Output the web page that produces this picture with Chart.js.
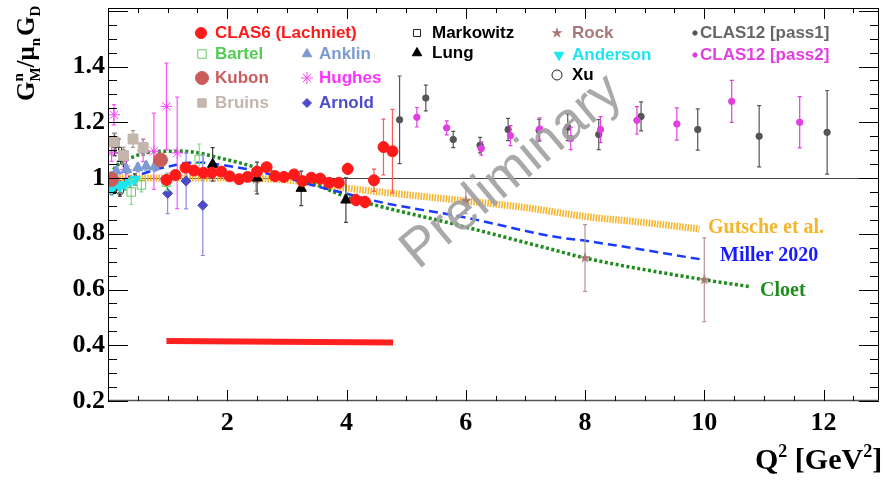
<!DOCTYPE html>
<html><head><meta charset="utf-8">
<script src="https://cdn.jsdelivr.net/npm/chart.js@4.4.1/dist/chart.umd.min.js"></script>
<style>html,body{margin:0;padding:0;background:#fff;overflow:hidden}</style>
</head><body>
<canvas id="c" width="887" height="481"></canvas>
<script>
// ---------------- data ----------------
const xTickValues = [2, 4, 6, 8, 10, 12];
const yTickValues = [0.2, 0.4, 0.6, 0.8, 1.0, 1.2, 1.4];

const clas6Q2  = [0.98,1.13,1.30,1.44,1.60,1.74,1.90,2.04,2.20,2.34,2.50,2.66,2.80,2.95,3.12,3.26,3.41,3.56,3.71,3.87,4.02,4.16,4.31,4.46,4.62,4.77];
const clas6GM  = [0.993,1.011,1.037,1.027,1.019,1.019,1.023,1.006,0.996,1.004,1.023,1.039,1.007,1.004,1.013,0.989,1.001,0.998,0.983,0.983,1.033,0.921,0.914,0.992,1.111,1.096];
const clas6Err = [0.012,0.010,0.010,0.010,0.010,0.010,0.010,0.010,0.010,0.010,0.012,0.012,0.012,0.012,0.012,0.012,0.013,0.013,0.014,0.015,0.020,0.020,0.020,0.040,0.100,0.150];
const clas6SysQ2 = [0.98, 4.78];
const clas6SysGM = [0.415, 0.410];

const bartelQ2 = [0.39, 0.56, 0.98, 1.53];
const bartelGM = [0.950, 0.975, 0.985, 1.067];
const bartelErr = [0.045, 0.025, 0.030, 0.055];

const kubonQ2 = [0.06, 0.88];
const kubonGM = [0.995, 1.065];
const kubonErr = [0.010, 0.010];

const bruinsQ2 = [0.10, 0.26, 0.42, 0.59];
const bruinsGM = [1.130, 1.081, 1.140, 1.110];
const bruinsErr = [0.030, 0.030, 0.030, 0.030];

const anklinQ2 = [0.14, 0.31, 0.50, 0.64, 0.78];
const anklinGM = [1.025, 1.031, 1.037, 1.043, 1.040];
const anklinErr = [0.015, 0.015, 0.015, 0.015, 0.015];

const hughesQ2 = [0.06, 0.10, 0.30, 0.59, 0.77, 0.98, 1.16];
const hughesGM = [1.090, 1.227, 1.030, 1.099, 1.096, 1.257, 1.090];
const hughesErr = [0.030, 0.036, 0.030, 0.040, 0.137, 0.155, 0.200];

const arnoldQ2 = [1.00, 1.31, 1.59];
const arnoldGM = [0.945, 0.989, 0.902];
const arnoldErr = [0.073, 0.100, 0.180];

const markowitzQ2 = [0.11, 0.18, 0.26];
const markowitzGM = [1.120, 1.100, 1.060];
const markowitzErr = [0.040, 0.040, 0.040];

const lungQ2 = [1.755, 2.50, 3.24, 3.99];
const lungGM = [1.049, 1.000, 0.963, 0.921];
const lungErr = [0.060, 0.057, 0.062, 0.080];

const rockQ2 = [2.48, 6.00, 8.00, 10.00];
const rockGM = [0.995, 0.918, 0.713, 0.635];
const rockErr = [0.042, 0.046, 0.120, 0.150];

const andersonQ2 = [0.06, 0.12, 0.20, 0.28, 0.37, 0.45];
const andersonGM = [0.960, 0.977, 0.969, 0.977, 0.986, 0.995];
const andersonErr = [0.020, 0.020, 0.020, 0.020, 0.020, 0.020];

const xuQ2 = [0.10, 0.20];
const xuGM = [0.965, 0.955];
const xuErr = [0.020, 0.020];

const pass1Q2 = [4.89,5.33,5.79,6.24,6.71,7.23,7.71,8.23,8.94,9.89,10.92,12.06];
const pass1GM = [1.209,1.287,1.138,1.118,1.174,1.171,1.182,1.156,1.221,1.174,1.150,1.164];
const pass1Err = [0.157,0.046,0.029,0.028,0.040,0.039,0.048,0.054,0.052,0.074,0.110,0.150];

const pass2Q2 = [5.18,5.68,6.26,6.75,7.24,7.76,8.26,8.87,9.54,10.46,11.60];
const pass2GM = [1.218,1.180,1.106,1.152,1.176,1.142,1.174,1.207,1.194,1.275,1.200];
const pass2Err = [0.035,0.025,0.024,0.036,0.040,0.040,0.046,0.049,0.058,0.075,0.092];

const gutscheQ2 = [0.0,0.5,1.0,1.5,2.0,2.5,3.0,3.5,4.0,5.0,6.0,7.0,8.0,9.0,9.92];
const gutscheGM = [1.000,1.000,1.000,1.000,1.000,0.998,0.993,0.980,0.964,0.940,0.918,0.894,0.862,0.840,0.817];

const millerQ2 = [0.0,0.06,0.17,0.34,0.50,0.78,1.06,1.34,1.60,1.90,2.20,2.50,2.80,3.10,3.50,4.00,4.60,5.70,6.00,7.50,8.00,9.98];
const millerGM = [1.000,0.981,0.965,0.983,1.007,1.029,1.043,1.055,1.055,1.047,1.037,1.025,1.009,0.995,0.970,0.944,0.912,0.870,0.858,0.789,0.775,0.707];

const cloetQ2 = [0.0,0.06,0.17,0.39,0.62,0.90,1.26,1.53,1.81,2.09,2.37,2.64,2.92,3.20,4.03,4.53,5.70,7.53,8.00,10.00,10.78];
const cloetGM = [0.995,1.019,1.049,1.073,1.090,1.096,1.096,1.090,1.075,1.061,1.045,1.028,1.013,1.000,0.930,0.900,0.840,0.739,0.713,0.635,0.610];

// ---------------- helpers ----------------
const pts = (xs, ys) => xs.map((v, i) => ({x: v, y: ys[i]}));

function makeStar(color, size) {
  const c = document.createElement('canvas');
  c.width = size; c.height = size;
  const g = c.getContext('2d');
  const cx = size / 2, cy = size / 2, R = size / 2, r = R * 0.38;
  g.beginPath();
  for (let i = 0; i < 10; i++) {
    const a = -Math.PI / 2 + i * Math.PI / 5;
    const rr = i % 2 === 0 ? R : r;
    g.lineTo(cx + rr * Math.cos(a), cy + rr * Math.sin(a));
  }
  g.closePath();
  g.fillStyle = color; g.fill();
  return c;
}
const rockStar = makeStar('#a87878', 12);

function pointDs(label, xs, ys, errs, o) {
  return Object.assign({
    type: 'scatter', label, data: pts(xs, ys), errors: errs,
    pointRadius: 4, pointBorderWidth: 1, order: 1
  }, o);
}
function curveDs(label, xs, ys, o) {
  return Object.assign({
    type: 'line', label, data: pts(xs, ys), showLine: true, pointRadius: 0,
    fill: false, cubicInterpolationMode: 'monotone', order: 5
  }, o);
}

const datasets = [
  pointDs('CLAS6 (Lachniet)', clas6Q2, clas6GM, clas6Err, {pointStyle: 'circle', pointRadius: 5.5, backgroundColor: '#ff1a1a', borderColor: '#ff1a1a', errorColor: '#ff5a5a'}),
  pointDs('Kubon', kubonQ2, kubonGM, kubonErr, {pointStyle: 'circle', pointRadius: 7, backgroundColor: '#cc5c5c', borderColor: '#cc5c5c', errorColor: '#cc5c5c'}),
  pointDs('Bartel', bartelQ2, bartelGM, bartelErr, {pointStyle: 'rect', pointRadius: 6, backgroundColor: 'rgba(0,0,0,0)', borderColor: '#66cc66', errorColor: '#88dd88'}),
  pointDs('Bruins', bruinsQ2, bruinsGM, bruinsErr, {pointStyle: 'rect', pointRadius: 7, backgroundColor: '#c4b5ad', borderColor: '#c4b5ad', errorColor: '#aa9a92'}),
  pointDs('Anklin', anklinQ2, anklinGM, anklinErr, {pointStyle: 'triangle', pointRadius: 6, backgroundColor: '#7c9bd2', borderColor: '#7c9bd2', errorColor: '#7c9bd2'}),
  pointDs('Hughes', hughesQ2, hughesGM, hughesErr, {pointStyle: 'star', pointRadius: 6, backgroundColor: '#ff44ff', borderColor: '#ff44ff', errorColor: '#ff55ff'}),
  pointDs('Arnold', arnoldQ2, arnoldGM, arnoldErr, {pointStyle: 'rectRot', pointRadius: 5, backgroundColor: '#4b4bcc', borderColor: '#4b4bcc', errorColor: '#8c8cdd'}),
  pointDs('Markowitz', markowitzQ2, markowitzGM, markowitzErr, {pointStyle: 'rect', pointRadius: 4, backgroundColor: 'rgba(0,0,0,0)', borderColor: '#222', errorColor: '#222'}),
  pointDs('Lung', lungQ2, lungGM, lungErr, {pointStyle: 'triangle', pointRadius: 6, backgroundColor: '#000', borderColor: '#000', errorColor: '#444'}),
  pointDs('Rock', rockQ2, rockGM, rockErr, {pointStyle: rockStar, pointRadius: 6, backgroundColor: '#a87878', borderColor: '#a87878', errorColor: '#b89494'}),
  pointDs('Anderson', andersonQ2, andersonGM, andersonErr, {pointStyle: 'triangle', rotation: 180, pointRadius: 6, backgroundColor: '#1ee6f0', borderColor: '#1ee6f0', errorColor: '#333'}),
  pointDs('Xu', xuQ2, xuGM, xuErr, {pointStyle: 'circle', pointRadius: 4, backgroundColor: 'rgba(0,0,0,0)', borderColor: '#222', errorColor: '#222'}),
  pointDs('CLAS12 [pass1]', pass1Q2, pass1GM, pass1Err, {pointStyle: 'circle', pointRadius: 3.2, backgroundColor: '#555', borderColor: '#555', errorColor: '#555', order: 2}),
  pointDs('CLAS12 [pass2]', pass2Q2, pass2GM, pass2Err, {pointStyle: 'circle', pointRadius: 3.2, backgroundColor: '#e040e0', borderColor: '#e040e0', errorColor: '#e040e0', order: 1}),
  curveDs('CLAS6 syst.', clas6SysQ2, clas6SysGM, {borderColor: '#ff2020', borderWidth: 6, cubicInterpolationMode: 'default', tension: 0}),
  curveDs('Gutsche et al.', gutscheQ2, gutscheGM, {borderColor: '#f7b42c', borderWidth: 7, borderDash: [1.6, 1.2], borderCapStyle: 'butt', order: 7}),
  curveDs('Miller 2020', millerQ2, millerGM, {borderColor: '#1a3cff', borderWidth: 2.5, borderDash: [9, 5], order: 6}),
  curveDs('Cloet', cloetQ2, cloetGM, {borderColor: '#1f8c1f', borderWidth: 3.5, borderDash: [3, 2.5], borderCapStyle: 'butt', order: 6})
];

// ---------------- plugins ----------------
const errorBarPlugin = {
  id: 'errorBars',
  beforeDatasetDraw(chart, args) {
    const ds = chart.data.datasets[args.index];
    if (!ds.errors) return;
    const {ctx, chartArea: ca, scales: {x, y}} = chart;
    ctx.save();
    ctx.beginPath(); ctx.rect(ca.left, ca.top, ca.right - ca.left, ca.bottom - ca.top); ctx.clip();
    ctx.strokeStyle = ds.errorColor; ctx.lineWidth = 1.2;
    ds.data.forEach((p, i) => {
      const e = ds.errors[i];
      const px = x.getPixelForValue(p.x);
      const y1 = y.getPixelForValue(p.y + e), y2 = y.getPixelForValue(p.y - e);
      ctx.beginPath();
      ctx.moveTo(px, y1); ctx.lineTo(px, y2);
      ctx.moveTo(px - 2, y1); ctx.lineTo(px + 2, y1);
      ctx.moveTo(px - 2, y2); ctx.lineTo(px + 2, y2);
      ctx.stroke();
    });
    ctx.restore();
  }
};

function legendMarker(ctx, ds, x, y) {
  ctx.save();
  ctx.fillStyle = ds.backgroundColor; ctx.strokeStyle = ds.borderColor; ctx.lineWidth = 1;
  Chart.helpers.drawPoint(ctx, {pointStyle: ds.pointStyle, rotation: ds.rotation || 0, radius: ds.pointRadius, borderWidth: 1}, x, y);
  ctx.restore();
}

const legendLayout = [
  ['CLAS6 (Lachniet)', 201, 33, 215, '#ff1a1a'],
  ['Bartel', 202, 54, 215, '#55cc55'],
  ['Kubon', 202, 78, 215, '#cc5c5c'],
  ['Bruins', 202, 103, 215, '#c4b5ad'],
  ['Anklin', 307, 54, 319, '#7c9bd2'],
  ['Hughes', 307, 78, 319, '#ff33ff'],
  ['Arnold', 307, 103, 319, '#4b4bcc'],
  ['Markowitz', 417, 33, 432, '#000'],
  ['Lung', 417, 53, 432, '#000'],
  ['Rock', 557, 33, 572, '#a87878'],
  ['Anderson', 559, 55, 572, '#1ee6f0'],
  ['Xu', 557, 75, 572, '#000'],
  ['CLAS12 [pass1]', 695, 33, 700, '#666'],
  ['CLAS12 [pass2]', 695, 55, 700, '#e040e0']
];
const legendSizes = {'Kubon': 6.5, 'Bruins': 6, 'Bartel': 6, 'Markowitz': 5, 'Lung': 5.5, 'Anderson': 5.5, 'Anklin': 5.5, 'Xu': 5, 'CLAS12 [pass1]': 2.2, 'CLAS12 [pass2]': 2.2, 'Arnold': 4.5, 'Hughes': 6, 'CLAS6 (Lachniet)': 5.5, 'Rock': 6};

const curveLabels = [
  ['Gutsche et al.', 708, 233, '#f5b52a'],
  ['Miller 2020', 720, 261, '#1a1aff'],
  ['Cloet', 760, 296, '#1f8c1f']
];

const decorPlugin = {
  id: 'decor',
  beforeDatasetsDraw(chart) {
    const {ctx, chartArea: ca, scales: {y}} = chart;
    ctx.save();
    const y1 = y.getPixelForValue(1);
    ctx.strokeStyle = '#444'; ctx.lineWidth = 1;
    ctx.beginPath(); ctx.moveTo(ca.left, Math.round(y1) + 0.5); ctx.lineTo(ca.right, Math.round(y1) + 0.5); ctx.stroke();
    ctx.restore();
  },
  afterDatasetsDraw(chart) {
    const {ctx} = chart;
    ctx.save();
    ctx.translate(512, 172);
    ctx.rotate(-40 * Math.PI / 180);
    ctx.font = '54px "Liberation Sans", Arial, sans-serif';
    ctx.fillStyle = 'rgba(160,160,160,0.9)';
    ctx.textAlign = 'center'; ctx.textBaseline = 'middle';
    ctx.fillText('Preliminary', 0, 0);
    ctx.restore();
  },
  afterDraw(chart) {
    const {ctx, chartArea: ca, scales: {x, y}} = chart;
    ctx.save();
    // frame
    ctx.strokeStyle = '#000'; ctx.lineWidth = 1;
    ctx.strokeRect(ca.left + 0.5, ca.top + 0.5, ca.right - ca.left - 1, ca.bottom - ca.top - 1);
    ctx.strokeStyle = '#555'; ctx.lineWidth = 1.5;
    ctx.beginPath(); ctx.moveTo(ca.left, ca.bottom - 0.5); ctx.lineTo(ca.right, ca.bottom - 0.5); ctx.stroke();
    // x ticks
    ctx.strokeStyle = '#000'; ctx.lineWidth = 1;
    for (let k = 0; k * 0.5 <= x.max; k++) {
      const v = k * 0.5, px = Math.round(x.getPixelForValue(v)) + 0.5;
      const len = (k % 4 === 0) ? 11 : 5;
      ctx.beginPath();
      ctx.moveTo(px, ca.bottom); ctx.lineTo(px, ca.bottom - len);
      ctx.moveTo(px, ca.top); ctx.lineTo(px, ca.top + len);
      ctx.stroke();
    }
    for (let k = 4; k * 0.05 <= y.max + 1e-9; k++) {
      const v = k * 0.05, py = Math.round(y.getPixelForValue(v)) + 0.5;
      const len = (k % 4 === 0) ? 20 : 9;
      ctx.beginPath();
      ctx.moveTo(ca.left, py); ctx.lineTo(ca.left + len, py);
      ctx.moveTo(ca.right, py); ctx.lineTo(ca.right - len, py);
      ctx.stroke();
    }
    // legend
    ctx.textBaseline = 'middle'; ctx.textAlign = 'left';
    ctx.font = 'bold 17px "Liberation Sans", Arial, sans-serif';
    legendLayout.forEach(([name, mx, my, tx, col]) => {
      const ds = chart.data.datasets.find(d => d.label === name);
      const d2 = Object.assign({}, ds, {pointRadius: legendSizes[name] || ds.pointRadius});
      legendMarker(ctx, d2, mx, my);
      ctx.fillStyle = col;
      ctx.fillText(name, tx, my);
    });
    // curve labels
    ctx.textBaseline = 'alphabetic';
    ctx.font = 'bold 20px "Liberation Serif", "Times New Roman", serif';
    curveLabels.forEach(([t, tx, ty, col]) => { ctx.fillStyle = col; ctx.fillText(t, tx, ty); });
    // x title
    ctx.fillStyle = '#000';
    let cx = 755;
    const big = 'bold 30px "Liberation Serif", serif', small = 'bold 18px "Liberation Serif", serif';
    const runs = [['Q', big, 0], ['2', small, -12], [' [GeV', big, 0], ['2', small, -12], [']', big, 0]];
    runs.forEach(([t, f, dy]) => { ctx.font = f; ctx.fillText(t, cx, 469 + dy); cx += ctx.measureText(t).width; });
    // y title
    ctx.save();
    ctx.translate(34, 101);
    ctx.rotate(-Math.PI / 2);
    let u = 0;
    const yb = 'bold 25px "Liberation Serif", serif', ys = 'bold 15px "Liberation Serif", serif';
    ctx.font = yb; ctx.fillText('G', u, 0); u += ctx.measureText('G').width;
    ctx.font = ys; ctx.fillText('n', u, -11); const wM = ctx.measureText('M').width; ctx.fillText('M', u, 6); u += wM;
    ctx.font = yb; ctx.fillText('/\u03bc', u, 0); u += ctx.measureText('/\u03bc').width;
    ctx.font = ys; ctx.fillText('n', u, 6); u += ctx.measureText('n').width + 2;
    ctx.font = yb; ctx.fillText('G', u, 0); u += ctx.measureText('G').width;
    ctx.font = ys; ctx.fillText('D', u, 6);
    ctx.restore();
    ctx.restore();
  }
};

const tickFont = {family: '"Liberation Serif", "Times New Roman", serif', size: 26, weight: 'bold'};

new Chart(document.getElementById('c'), {
  type: 'scatter',
  data: {datasets},
  options: {
    responsive: false, animation: false, events: [],
    layout: {padding: {top: 7, right: 1, left: 0, bottom: 0}},
    plugins: {legend: {display: false}, tooltip: {enabled: false}},
    scales: {
      x: {
        type: 'linear', min: 0, max: 12.93,
        grid: {display: false, drawTicks: false}, border: {display: false},
        afterBuildTicks: s => { s.ticks = xTickValues.map(v => ({value: v})); },
        afterFit: s => { s.height = 80; s.paddingLeft = 0; s.paddingRight = 0; },
        ticks: {font: tickFont, color: '#000', padding: 7, maxRotation: 0, autoSkip: false}
      },
      y: {
        type: 'linear', min: 0.2, max: 1.61,
        grid: {display: false, drawTicks: false}, border: {display: false},
        afterBuildTicks: s => { s.ticks = yTickValues.map(v => ({value: v})); },
        afterFit: s => { s.width = 108; s.paddingTop = 0; s.paddingBottom = 0; },
        ticks: {font: tickFont, color: '#000', padding: 3, autoSkip: false,
          callback: v => String(Math.round(v * 10) / 10)}
      }
    }
  },
  plugins: [errorBarPlugin, decorPlugin]
});
</script>
</body></html>
